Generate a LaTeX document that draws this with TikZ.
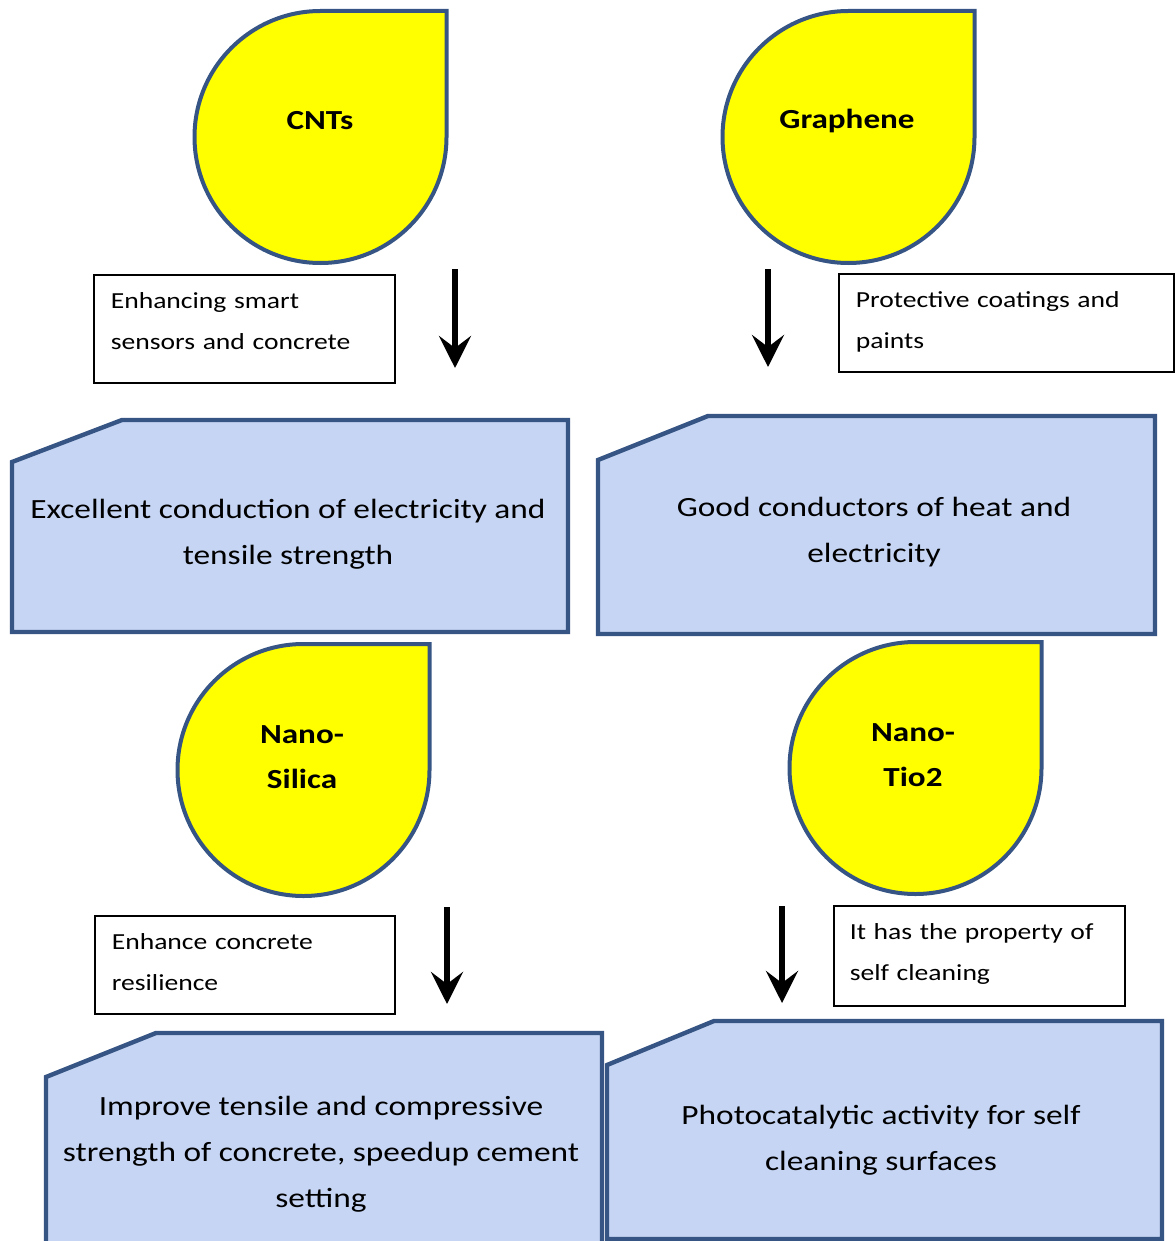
\documentclass[tikz,border=0pt]{standalone}
\usepackage{fontspec}
\setmainfont{Carlito}[FakeStretch=1.2]
\usepackage{xcolor}
\usepackage{tikz}
\usetikzlibrary{arrows.meta}
\definecolor{dropyellow}{RGB}{255,255,0}
\definecolor{edgeblue}{RGB}{54,84,132}
\definecolor{paleblue}{RGB}{198,213,243}
\tikzset{
  drop/.style={draw=edgeblue, line width=2pt, fill=dropyellow},
  droptext/.style={align=center, font=\fontsize{13.8pt}{22.5pt}\selectfont\bfseries},
  pbox/.style={draw=edgeblue, line width=2.2pt, fill=paleblue, line join=miter},
  ptext/.style={align=center, font=\fontsize{13.9pt}{23pt}\selectfont},
  lbox/.style={draw=black, line width=0.8pt, anchor=north west, align=left, inner xsep=8.5pt, inner ysep=9pt, text depth=23pt, font=\fontsize{11.5pt}{20.5pt}\selectfont},
  farr/.style={-{Stealth[length=16pt,width=16pt,inset=6pt]}, line width=3pt}
}
\newcommand{\dropat}[1]{\draw[drop] (#1) ++(126,0) arc[start angle=0, end angle=-270, radius=126] -- ++(126,0) -- cycle;}

\begin{document}
\begin{tikzpicture}[x=0.5pt, y=0.5pt]
\useasboundingbox (0,0) rectangle (1174,-1241);
% drops
\coordinate (c1) at (320.5,-137);
\coordinate (c2) at (848.5,-137);
\coordinate (c3) at (303.5,-770);
\coordinate (c4) at (915.5,-768);
\dropat{c1} \dropat{c2} \dropat{c3} \dropat{c4}
\node[droptext] (cnt) at (320,-121) {CNTs};
\node[droptext] (gra) at (847,-121) {Graphene};
\node[droptext] (sil) at (302,-757.5) {Nano-\\Silica};
\node[droptext] (tio) at (913,-755.5) {Nano-\\Tio2};
% property boxes
\draw[pbox] (12,-462) -- (122,-420) -- (568,-420) -- (568,-632) -- (12,-632) -- cycle;
\draw[pbox] (598,-460) -- (708,-416) -- (1155,-416) -- (1155,-634) -- (598,-634) -- cycle;
\draw[pbox] (46,-1077) -- (156,-1033) -- (602,-1033) -- (602,-1275) -- (46,-1275) -- cycle;
\draw[pbox] (607,-1065) -- (714,-1021) -- (1162,-1021) -- (1162,-1239) -- (607,-1239) -- cycle;
\node[ptext] (box1) at (288,-534) {Excellent conduction of electricity and\\tensile strength};
\node[ptext] (box2) at (874,-532) {Good conductors of heat and\\electricity};
\node[ptext] (box3) at (321,-1154) {Improve tensile and compressive\\strength of concrete, speedup cement\\setting};
\node[ptext] (box4) at (881,-1140) {Photocatalytic activity for self\\cleaning surfaces};
% use labels
\node[lbox, text width=133.5pt, text depth=28pt] (lab1) at (93,-274) {Enhancing smart\\sensors and concrete};
\node[lbox, text width=150.5pt] (lab2) at (838,-273) {Protective coatings and\\paints};
\node[lbox, text width=133pt] (lab3) at (94,-915) {Enhance concrete\\resilience};
\node[lbox, text width=129.5pt, inner xsep=8pt, text depth=24pt] (lab4) at (833,-905) {It has the property of\\self cleaning};
% arrows
\coordinate (a1s) at (455,-269); \coordinate (a1e) at (455,-368);
\coordinate (a2s) at (768,-269); \coordinate (a2e) at (768,-367);
\coordinate (a3s) at (447,-907); \coordinate (a3e) at (447,-1004);
\coordinate (a4s) at (782,-906); \coordinate (a4e) at (782,-1003);
\draw[farr] (a1s)--(a1e); \draw[farr] (a2s)--(a2e);
\draw[farr] (a3s)--(a3e); \draw[farr] (a4s)--(a4e);
\end{tikzpicture}
\end{document}
